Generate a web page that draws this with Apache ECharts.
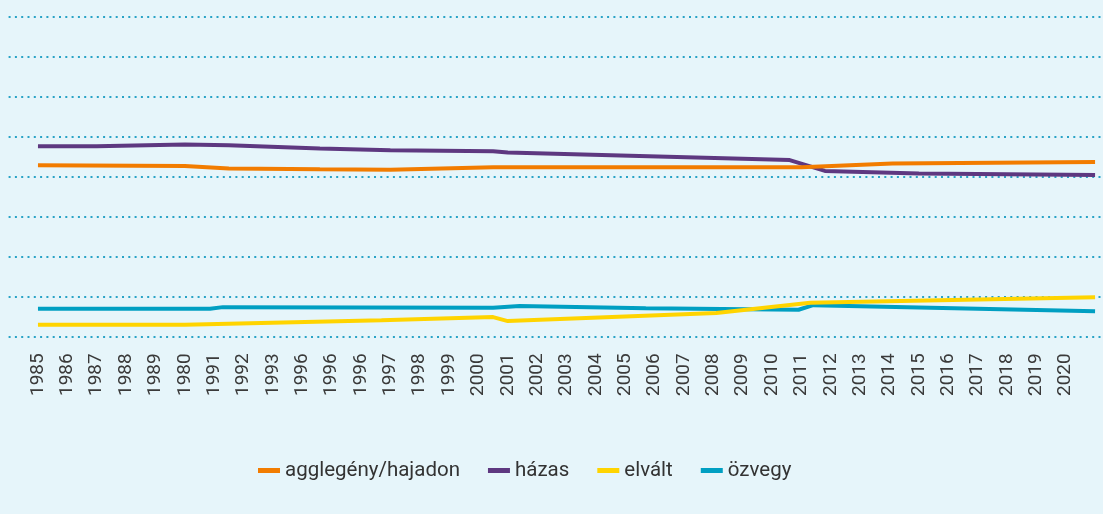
<!DOCTYPE html>
<html>
<head>
<meta charset="utf-8">
<script src="https://cdn.jsdelivr.net/npm/echarts@6/dist/echarts.min.js"></script>
<style>
  html, body { margin: 0; padding: 0; background: #e6f5fa; }
  #chart { width: 1103px; height: 514px; }
</style>
</head>
<body>
<div id="chart"></div>
<script>
// tick labels, one per year slot (as printed in the source)
var yearLabels = ['1985', '1986', '1987', '1988', '1989', '1980', '1991', '1992', '1993',
  '1996', '1996', '1996', '1997', '1998', '1999', '2000', '2001', '2002', '2003', '2004',
  '2005', '2006', '2007', '2008', '2009', '2010', '2011', '2012', '2013', '2014', '2015',
  '2016', '2017', '2018', '2019', '2020'];

// [slot position, share %]
var agglegeny = [[0, 42.8], [5, 42.65], [6.5, 42.0], [9.6, 41.8], [12, 41.7], [15.5, 42.3],
  [26, 42.3], [29.1, 43.25], [36, 43.6]];
var hazas = [[0, 47.6], [2, 47.6], [5, 48.0], [6.5, 47.8], [9.6, 47.0], [12, 46.6],
  [15.5, 46.3], [16, 46.0], [25.6, 44.1], [26.8, 41.4], [30, 40.75], [36, 40.4]];
var elvalt = [[0, 2.9], [5, 2.9], [11.7, 4.0], [15.5, 4.8], [16, 3.8], [23.1, 5.85],
  [26.3, 8.4], [36, 9.8]];
var ozvegy = [[0, 6.9], [5.86, 6.9], [6.3, 7.3], [15.5, 7.15], [16.4, 7.6], [20.7, 7.0],
  [25.9, 6.65], [26.4, 7.8], [36, 6.25]];

var chart = echarts.init(document.getElementById('chart'));

function line(name, data, color, z) {
  return {
    name: name,
    type: 'line',
    data: data,
    z: z,
    symbol: 'none',
    lineStyle: { color: color, width: 4 },
    itemStyle: { color: color }
  };
}

var option = {
  backgroundColor: '#e6f5fa',
  animation: false,
  textStyle: { fontFamily: 'Roboto' },
  grid: {
    left: 8.6,
    right: 0,
    top: 16.7,
    bottom: 177.7
  },
  legend: {
    left: 253,
    top: 455,
    icon: 'rect',
    itemWidth: 22,
    itemHeight: 5,
    itemGap: 28,
    textStyle: { fontSize: 20.5, color: '#333', padding: [0, 0, 0, 0] },
    data: ['agglegény/hajadon', 'házas', 'elvált', 'özvegy']
  },
  xAxis: {
    type: 'value',
    min: -1,
    max: 36.27,
    interval: 1,
    axisLine: { show: false },
    axisTick: { show: false },
    splitLine: { show: false },
    axisLabel: {
      rotate: 90,
      margin: 17,
      fontSize: 19,
      color: '#3a3a3a',
      showMaxLabel: false,
      formatter: function (v) {
        var s = yearLabels[Math.round(v)];
        return Math.abs(v - Math.round(v)) < 1e-6 && s ? s : '';
      }
    }
  },
  yAxis: {
    type: 'value',
    min: 0,
    max: 80,
    interval: 10,
    axisLine: { show: false },
    axisTick: { show: false },
    axisLabel: { show: false },
    splitLine: {
      lineStyle: { color: '#29a3c6', width: 2, type: [2, 4.3] }
    }
  },
  series: [
    line('házas', hazas, '#5e3880', 2),
    line('agglegény/hajadon', agglegeny, '#f27c00', 3),
    line('özvegy', ozvegy, '#009fc2', 2),
    line('elvált', elvalt, '#ffd400', 3)
  ]
};

chart.setOption(option);
</script>
</body>
</html>
